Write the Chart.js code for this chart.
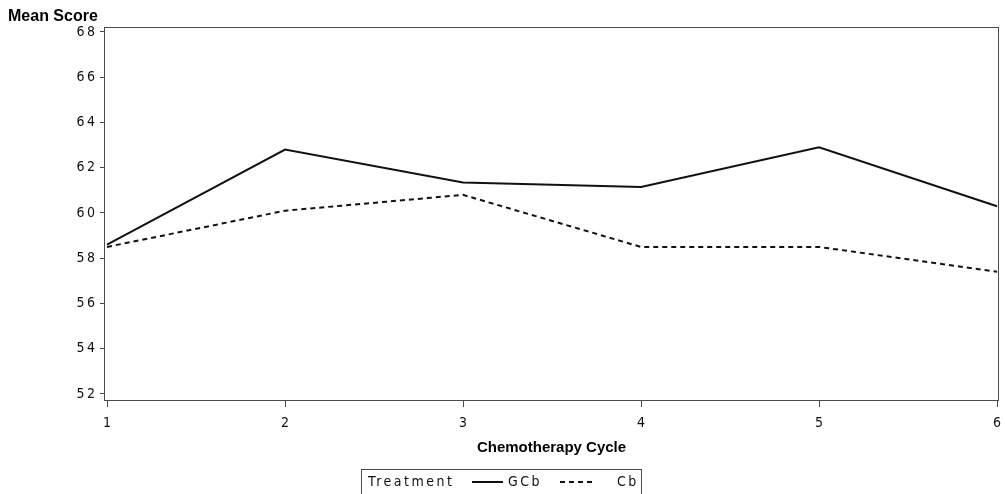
<!DOCTYPE html>
<html>
<head>
<meta charset="utf-8">
<script src="https://cdn.jsdelivr.net/npm/chart.js@4/dist/chart.umd.min.js"></script>
<style>
  html, body { margin: 0; padding: 0; background: #fff; }
  #wrap { width: 1005px; height: 494px; }
</style>
</head>
<body>
<div id="wrap"><canvas id="score-chart" width="1005" height="494"></canvas></div>
<script>
const cycles = [1, 2, 3, 4, 5, 6];
const gcbScores = [58.6, 62.8, 61.35, 61.15, 62.9, 60.3];
const cbScores = [58.5, 60.1, 60.8, 58.5, 58.5, 57.4];
const yTickValues = [52, 54, 56, 58, 60, 62, 64, 66, 68];

const TICK_FONT = "'Liberation Sans Narrow', 'DejaVu Sans Condensed', sans-serif";
const TITLE_FONT = "'Liberation Sans', Arial, sans-serif";
const FRAME = "#4a4a4a";

// SAS style digits are spread out a little
function spaced(v) {
  return String(v).split("").join("\u2009");
}

const framePlugin = {
  id: "frame",
  afterDraw(chart) {
    const { ctx, chartArea: a } = chart;
    ctx.save();
    ctx.strokeStyle = FRAME;
    ctx.lineWidth = 1;
    ctx.strokeRect(a.left + 0.5, a.top + 0.5, a.right - a.left - 1, a.bottom - a.top - 1);

    // axis titles
    ctx.fillStyle = "#000";
    ctx.font = "bold 16px " + TITLE_FONT;
    ctx.textBaseline = "middle";
    ctx.textAlign = "left";
    ctx.fillText("Mean Score", 8, 17);
    ctx.font = "bold 15px " + TITLE_FONT;
    ctx.textAlign = "center";
    ctx.fillText("Chemotherapy Cycle", (a.left + a.right) / 2, 448);

    // legend box
    const sets = chart.data.datasets;
    ctx.strokeStyle = FRAME;
    ctx.strokeRect(361.5, 469.5, 280, 30);
    ctx.font = "14px " + TICK_FONT;
    ctx.letterSpacing = "2.5px";
    ctx.textAlign = "left";
    ctx.fillStyle = "#111";
    const ly = 482;
    ctx.fillText("Treatment", 368, ly);
    const items = [
      { x0: 472, x1: 503, tx: 508 },
      { x0: 560, x1: 594, tx: 617 }
    ];
    items.forEach((it, i) => {
      const ds = sets[i];
      ctx.beginPath();
      ctx.setLineDash(ds.borderDash || []);
      ctx.lineWidth = ds.borderWidth;
      ctx.strokeStyle = ds.borderColor;
      ctx.moveTo(it.x0, ly);
      ctx.lineTo(it.x1, ly);
      ctx.stroke();
      ctx.setLineDash([]);
      ctx.fillText(ds.label, it.tx, ly);
    });
    ctx.restore();
  }
};

const ctx = document.getElementById("score-chart").getContext("2d");

new Chart(ctx, {
  type: "line",
  data: {
    datasets: [
      {
        label: "GCb",
        data: cycles.map((c, i) => ({ x: c, y: gcbScores[i] })),
        borderColor: "#111",
        borderWidth: 2,
        pointRadius: 0,
        tension: 0
      },
      {
        label: "Cb",
        data: cycles.map((c, i) => ({ x: c, y: cbScores[i] })),
        borderColor: "#111",
        borderWidth: 2,
        borderDash: [5, 4],
        pointRadius: 0,
        tension: 0
      }
    ]
  },
  options: {
    responsive: false,
    animation: false,
    layout: { padding: { top: 27, right: 6, left: 0, bottom: 0 } },
    plugins: {
      legend: { display: false },
      tooltip: { enabled: false }
    },
    scales: {
      x: {
        type: "linear",
        min: 0.983,
        max: 6.011,
        afterBuildTicks: scale => { scale.ticks = cycles.map(v => ({ value: v })); },
        afterFit: scale => {
          scale.height = 93;
          scale.paddingLeft = 0;
          scale.paddingRight = 0;
        },
        grid: { drawOnChartArea: false, drawTicks: true, tickLength: 6, color: FRAME },
        border: { display: false },
        ticks: {
          padding: 8,
          color: "#111",
          font: { family: TICK_FONT, size: 14 },
          maxRotation: 0,
          callback: v => spaced(v)
        }
      },
      y: {
        min: 51.69,
        max: 68.22,
        afterBuildTicks: scale => { scale.ticks = yTickValues.map(v => ({ value: v })); },
        afterFit: scale => {
          scale.width = 104;
          scale.paddingTop = 0;
          scale.paddingBottom = 0;
        },
        grid: { drawOnChartArea: false, drawTicks: true, tickLength: 4, color: FRAME },
        border: { display: false },
        ticks: {
          padding: 5,
          color: "#111",
          font: { family: TICK_FONT, size: 14 },
          callback: v => spaced(v)
        }
      }
    }
  },
  plugins: [framePlugin]
});
</script>
</body>
</html>
